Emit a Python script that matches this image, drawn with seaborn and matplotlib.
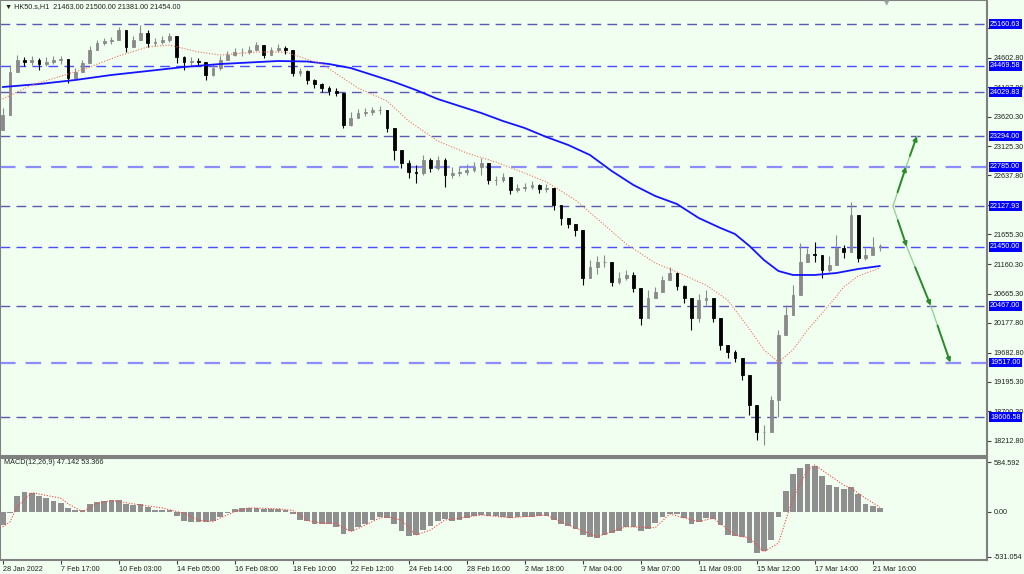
"""
plot.py
HK50.s H1 — velas, medias móviles, niveles y MACD (réplica estilo MetaTrader)
"""

import numpy as np
import matplotlib
matplotlib.use('Agg')
import matplotlib.pyplot as plt
import matplotlib.transforms as mtransforms
import seaborn as sns

# ──────────────────────────────────────────────────────────────────────────────
# DATOS
# ──────────────────────────────────────────────────────────────────────────────
first_open = 23400

closes = [23647, 24365, 24565, 24531, 24565, 24498, 24531, 24565, 24582, 24265,
          24365, 24515, 24732, 24849, 24882, 24899, 25065, 24782, 24899, 25015,
          24849, 24865, 24899, 24965, 24615, 24531, 24548, 24531, 24315, 24431,
          24565, 24648, 24698, 24698, 24732, 24815, 24648, 24732, 24765, 24732,
          24348, 24382, 24231, 24164, 24098, 24048, 24014, 23480, 23597, 23681,
          23697, 23731, 23731, 23430, 23063, 22846, 22696, 22679, 22896, 22763,
          22896, 22646, 22679, 22696, 22730, 22780, 22846, 22563, 22563, 22613,
          22395, 22428, 22446, 22479, 22412, 22428, 22146, 21929, 21829, 21729,
          20928, 21111, 21195, 21195, 20861, 20928, 20978, 20760, 20260, 20594,
          20694, 20894, 21011, 20794, 20594, 20260, 20560, 20594, 20260, 19810,
          19693, 19593, 19309, 18808, 18358, 18358, 18892, 19976, 20310, 20644,
          21195, 21328, 21312, 21061, 21144, 21428, 21361, 21979, 21261, 21312,
          21445, 21454]

highs = [23764, 24481, 24648, 24615, 24632, 24598, 24615, 24632, 24632, 24565,
         24431, 24565, 24798, 24899, 24932, 24949, 25116, 25032, 24965, 25149,
         25065, 24932, 24965, 25015, 24815, 24632, 24615, 24598, 24531, 24498,
         24632, 24715, 24765, 24765, 24798, 24865, 24765, 24782, 24832, 24798,
         24698, 24431, 24398, 24248, 24181, 24131, 24098, 23898, 23697, 23747,
         23764, 23781, 23797, 23731, 23397, 23030, 22896, 22813, 22980, 22930,
         22963, 22930, 22780, 22796, 22830, 22863, 22930, 22730, 22629, 22679,
         22596, 22496, 22513, 22546, 22496, 22496, 22428, 22029, 21929, 21829,
         21595, 21228, 21295, 21312, 21144, 21028, 21061, 21028, 20760, 20727,
         20777, 20961, 21111, 21028, 20810, 20560, 20661, 20727, 20560, 20226,
         19810, 19726, 19559, 19142, 18558, 18475, 18959, 20060, 20477, 20810,
         21512, 21428, 21528, 21312, 21295, 21645, 21478, 22196, 21562, 21428,
         21612, 21500]

lows = [23397, 23898, 24398, 24465, 24481, 24398, 24465, 24498, 24498, 24181,
        24265, 24365, 24531, 24765, 24815, 24832, 24899, 24698, 24782, 24899,
        24782, 24798, 24832, 24865, 24515, 24398, 24465, 24465, 24231, 24298,
        24398, 24565, 24632, 24632, 24665, 24732, 24598, 24648, 24698, 24665,
        24298, 24298, 24164, 24098, 24031, 23981, 23964, 23430, 23464, 23597,
        23630, 23647, 23664, 23364, 22896, 22763, 22596, 22513, 22646, 22696,
        22730, 22446, 22596, 22629, 22646, 22696, 22646, 22496, 22479, 22529,
        22329, 22361, 22378, 22412, 22346, 22361, 22062, 21812, 21762, 21629,
        20810, 21028, 20994, 21111, 20794, 20827, 20894, 20694, 20143, 20477,
        20611, 20727, 20894, 20727, 20510, 20060, 20193, 20477, 20193, 19726,
        19593, 19526, 19225, 18642, 18225, 18141, 18391, 18608, 20060, 20477,
        20810, 21195, 21195, 20928, 21028, 21195, 21261, 21478, 21195, 21228,
        21361, 21381]

# media móvil lenta (azul) y rápida (roja punteada), leídas por barra
ma_slow_bars = [0, 5, 10, 15, 20, 25, 30, 34, 38, 42, 45, 48, 51, 54, 57, 60,
                63, 66, 69, 72, 75, 78, 81, 84, 87, 90, 93, 96, 99, 101, 103,
                105, 107, 109, 112, 115, 118, 121]
ma_slow_vals = [24114, 24164, 24231, 24315, 24381, 24448, 24498, 24523, 24548,
                24540, 24498, 24431, 24315, 24198, 24064, 23914, 23797, 23681,
                23547, 23430, 23280, 23147, 22980, 22713, 22479, 22296, 22162,
                21929, 21762, 21662, 21462, 21228, 21044, 20978, 20978, 21011,
                21078, 21128]

ma_fast_bars = [0, 4, 9, 12, 16, 20, 23, 27, 30, 35, 39, 44, 49, 53, 56, 60, 64,
                68, 72, 75, 79, 83, 86, 90, 93, 97, 100, 103, 105, 107, 109, 111,
                114, 116, 118, 121]
ma_fast_vals = [23914, 24148, 24331, 24448, 24632, 24782, 24815, 24698, 24648,
                24698, 24698, 24498, 24098, 23881, 23547, 23213, 23013, 22863,
                22679, 22529, 22229, 21812, 21495, 21178, 21028, 20810, 20560,
                20077, 19726, 19526, 19726, 20060, 20477, 20777, 20961, 21094]

macd_hist = [-160, -20, 190, 237, 225, 185, 160, 130, 100, 40,
             20, 15, 95, 115, 125, 135, 140, 90, 80, 95,
             60, 25, 20, 15, -50, -105, -120, -125, -125, -105,
             -65, -15, 35, 40, 40, 45, 35, 30, 30, 20,
             -30, -100, -110, -140, -145, -150, -185, -265, -230, -175,
             -140, -95, -65, -75, -140, -230, -285, -280, -215, -170,
             -110, -90, -115, -95, -75, -50, -40, -45, -47, -60,
             -70, -68, -62, -58, -52, -48, -100, -145, -170, -200,
             -275, -300, -305, -270, -250, -230, -180, -180, -230, -210,
             -130, -60, -25, -25, -80, -150, -125, -80, -90, -160,
             -270, -285, -300, -370, -490, -470, -330, -60, 240, 440,
             520, 565, 545, 420, 310, 296, 270, 290, 210, 90,
             68, 47]

signal_bars = [0, 1, 2, 4, 5, 8, 9, 11, 12, 13, 15, 16, 19, 22, 25, 27, 29, 30,
               32, 34, 38, 40, 41, 42, 44, 46, 48, 49, 52, 53, 55, 57, 59, 61,
               66, 70, 75, 78, 82, 86, 90, 92, 96, 98, 101, 103, 105, 107, 109,
               111, 112, 114, 116, 117, 119, 121]
signal_vals = [-180, -120, 60, 225, 210, 160, 95, 0, 45, 100, 130, 120, 80, 45,
               -20, -100, -118, -75, 0, 45, 35, 15, -39, -105, -134, -140, -236,
               -200, -75, -60, -100, -276, -216, -98, -39, -71, -39, -157, -296,
               -177, -189, -28, -118, -75, -276, -312, -473, -371, 160, 493, 552,
               434, 315, 280, 160, 53]

# niveles horizontales
levels = [25160.63, 24469.58, 24029.83, 23294.00, 22785.00, 22127.93,
          21450.00, 20467.00, 19517.00, 18606.58]
level_kind = ['dark', 'blue', 'dark', 'dark', 'light', 'dark',
              'blue', 'dark', 'light', 'dark']

price_ticks = [18212.80, 18700.30, 19195.30, 19682.80, 20177.80, 20665.30,
               21160.30, 21655.30, 22142.80, 22637.80, 23125.30, 23620.30,
               24107.80, 24602.80, 25097.80]
# etiquetas que el cuadro de nivel tapa por completo
hidden_ticks = [22142.80, 25097.80]

macd_ticks = [584.592, 0.0, -531.054]
macd_tick_labels = ['584.592', '0.00', '-531.054']

date_labels = ['28 Jan 2022', '7 Feb 17:00', '10 Feb 03:00', '14 Feb 05:00',
               '16 Feb 08:00', '18 Feb 10:00', '22 Feb 12:00', '24 Feb 14:00',
               '28 Feb 16:00', '2 Mar 18:00', '7 Mar 04:00', '9 Mar 07:00',
               '11 Mar 09:00', '15 Mar 12:00', '17 Mar 14:00', '21 Mar 16:00']
bars_per_label = 8

header = '\u25bc HK50.s,H1  21463.00 21500.00 21381.00 21454.00'
macd_title = 'MACD(12,26,9) 47.142 53.366'

# ──────────────────────────────────────────────────────────────────────────────
# ESTILO
# ──────────────────────────────────────────────────────────────────────────────
sns.set_theme(style='white')
plt.rcParams['font.family'] = ['Liberation Sans', 'DejaVu Sans']

BG = '#f0fff0'
FRAME = '#808080'
UP = '#8a8a8a'
DOWN = '#000000'
LEVEL_COLORS = {'dark': '#5a5ab4', 'blue': '#4b4bff', 'light': '#8c8cff'}

W, H = 1024, 574
PX_PER_BAR = 7.25
X0 = 2.7
RIGHT = 987

fig = plt.figure(figsize=(W / 100, H / 100), dpi=100, facecolor=BG)
ax = fig.add_axes([0, 118 / H, RIGHT / W, 456 / H], facecolor=BG)
axm = fig.add_axes([0, 14 / H, RIGHT / W, 102 / H], facecolor=BG)

xlim = (-X0 / PX_PER_BAR, (RIGHT - X0) / PX_PER_BAR)
for a in (ax, axm):
    a.set_xlim(*xlim)
    for s in a.spines.values():
        s.set_color(FRAME)
        s.set_linewidth(1.5)
    a.grid(False)

ax.set_ylim(17957.6, 25566)
axm.set_ylim(-571, 635)

# ──────────────────────────────────────────────────────────────────────────────
# VELAS
# ──────────────────────────────────────────────────────────────────────────────
idx = np.arange(len(closes))
c = np.array(closes, dtype=float)
o = np.concatenate([[first_open], c[:-1]])
hi = np.maximum(np.array(highs, dtype=float), np.maximum(o, c))
lo = np.minimum(np.array(lows, dtype=float), np.minimum(o, c))
col = np.where(c >= o, UP, DOWN)

ax.vlines(idx, lo, hi, colors=col, linewidth=0.8, zorder=3)
ax.bar(idx, c - o, bottom=o, width=0.38, color=col, edgecolor=col,
       linewidth=0.6, zorder=4)

# medias móviles
sns.lineplot(x=ma_slow_bars, y=ma_slow_vals, ax=ax, color='#1414ff',
             linewidth=1.3, zorder=5)
sns.lineplot(x=ma_fast_bars, y=ma_fast_vals, ax=ax, color='#f07060',
             linewidth=0.8, linestyle=(0, (1, 1.5)), zorder=5)

# niveles
blend = mtransforms.blended_transform_factory(ax.transAxes, ax.transData)
for lv, kind in zip(levels, level_kind):
    lw = 1.6 if kind == 'light' else 1.0
    ax.axhline(lv, color=LEVEL_COLORS[kind], linewidth=lw,
               dashes=(7, 4.5), zorder=2)

# ejes de precio (derecha)
ax.set_xticks([])
ax.yaxis.tick_right()
ax.set_yticks(price_ticks)
ax.set_yticklabels(['' if t in hidden_ticks else f'{t:.2f}' for t in price_ticks])
ax.tick_params(axis='y', length=3, width=0.8, color='#404040', labelsize=5.2,
               pad=1.5, labelcolor='#202020')
for lv in levels:
    ax.text(1.003, lv, f'{lv:.2f}', transform=blend, fontsize=5.2, color='white',
            va='center', ha='left', clip_on=False, zorder=10,
            bbox=dict(boxstyle='square,pad=0.2', fc='#0000ff', ec='none'))

# flechas de escenario
GREEN_DARK = '#2d8a2d'
GREEN_LIGHT = '#8fcf8f'
start = (122.8, levels[5])
up_path = [start, (124.6, levels[4]), (126.1, levels[3])]
down_path = [start, (124.7, levels[6]), (128.0, levels[7]), (130.7, levels[8])]
for path in (up_path, down_path):
    for (x1, y1), (x2, y2) in zip(path[:-1], path[1:]):
        ax.plot([x1, x2], [y1, y2], color=GREEN_LIGHT, linewidth=0.9, zorder=6)
        xm, ym = x1 + 0.35 * (x2 - x1), y1 + 0.35 * (y2 - y1)
        ax.annotate('', xy=(x2, y2), xytext=(xm, ym), zorder=7,
                    arrowprops=dict(arrowstyle='-|>', color=GREEN_DARK,
                                    linewidth=1.4, mutation_scale=6,
                                    shrinkA=0, shrinkB=0))

# ──────────────────────────────────────────────────────────────────────────────
# MACD
# ──────────────────────────────────────────────────────────────────────────────
axm.bar(idx, macd_hist, width=0.8, color='#8f8f8f', linewidth=0, zorder=3)
sns.lineplot(x=signal_bars, y=signal_vals, ax=axm, color='#ff4040',
             linewidth=0.8, linestyle=(0, (1, 1.5)), zorder=4)

axm.yaxis.tick_right()
axm.set_yticks(macd_ticks)
axm.set_yticklabels(macd_tick_labels)
axm.tick_params(axis='y', length=3, width=0.8, color='#404040', labelsize=5.2,
                pad=1.5, labelcolor='#202020')

tick_bars = [k * bars_per_label for k in range(len(date_labels))]
axm.set_xticks(tick_bars)
axm.set_xticklabels(date_labels)
axm.tick_params(axis='x', length=3, width=0.8, color='#404040', labelsize=5.2,
                pad=1.5, labelcolor='#202020', bottom=True)
for lab in axm.get_xticklabels():
    lab.set_horizontalalignment('left')

for a in (ax, axm):
    a.set_xlabel('')
    a.set_ylabel('')

# textos de cabecera
fig.text(5 / W, 1 - 7 / H, header, fontsize=5.2, color='#202020', va='center',
         ha='left', family=['Liberation Sans', 'DejaVu Sans'])
fig.text(4 / W, 1 - 462 / H, macd_title, fontsize=5.2, color='#202020',
         va='center', ha='left')
fig.text(887 / W, 1 - 3 / H, '\u25bc', fontsize=5, color='#a0a0a0',
         va='center', ha='center', family=['DejaVu Sans'])

fig.savefig('out.png', dpi=100, facecolor=BG)
